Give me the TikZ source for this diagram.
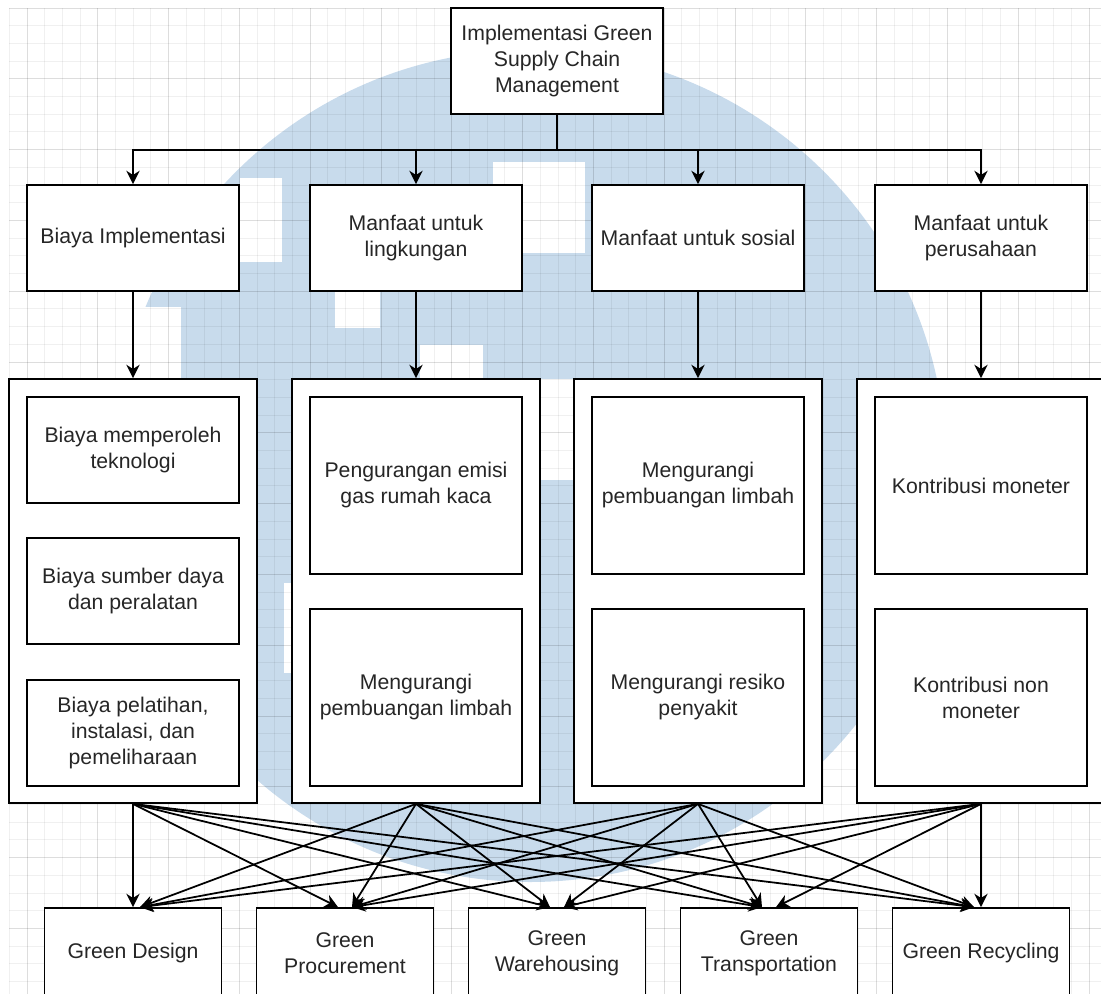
\documentclass[tikz,border=0pt]{standalone}
\usepackage{fontspec}
\setmainfont{Liberation Sans}
\usetikzlibrary{arrows.meta}
\definecolor{logoblue}{RGB}{200,219,236}

\begin{document}
\begin{tikzpicture}[x=0.25mm, y=-0.25mm,
    box/.style={draw, fill=white, line width=1.25pt, text=black!85, align=center,
      font=\fontsize{15.1}{18.5}\selectfont, inner sep=0pt},
    headbox/.style={box, minimum width=53mm, minimum height=26.5mm},
    groupbox/.style={box, minimum width=62mm, minimum height=106mm},
    itembox/.style={box, minimum width=53mm, minimum height=26.5mm},
    tallbox/.style={box, minimum width=53mm, minimum height=44.25mm},
    greenbox/.style={box, minimum width=44.25mm, minimum height=22.5mm},
    arr/.style={-{Stealth[length=9.5pt,width=9.5pt,inset=3pt]}, line width=1.25pt},
    minorline/.style={black, opacity=0.06, line width=0.7pt},
    majorline/.style={black, opacity=0.08, line width=0.7pt}]
    \useasboundingbox (0,0) rectangle (1101,994);
    \clip (0,0) rectangle (1101,994);

    % Background logo and grid
    \fill[logoblue] (530,466) circle[radius=104mm];
    \fill[white] (240,178) rectangle (282,262);
    \fill[white] (493,162) rectangle (585,253);
    \fill[white] (335,291) rectangle (380,328);
    \fill[white] (420,345) rectangle (483,380);
    \fill[white] (90,307) rectangle (181,400);
    \fill[white] (540,379) rectangle (575,480);
    \fill[white] (284,583) rectangle (293,673);
    \foreach \i in {0,...,61}
        \draw[minorline] ({9.3+17.7*\i},8) -- ({9.3+17.7*\i},994);
    \foreach \j in {0,...,55}
        \draw[minorline] (9.3,{8+17.7*\j}) -- (1101,{8+17.7*\j});
    \foreach \i in {0,...,15}
        \draw[majorline] ({27+70.8*\i},8) -- ({27+70.8*\i},994);
    \foreach \j in {0,...,13}
        \draw[majorline] (9.3,{8+70.8*\j}) -- (1101,{8+70.8*\j});

    % Define nodes
    \node[headbox] (top) at (557,61) {Implementasi Green\\Supply Chain\\Management};

    \node[headbox] (biaya) at (133,238) {Biaya Implementasi};
    \node[headbox] (lingkungan) at (416,238) {Manfaat untuk\\lingkungan};
    \node[headbox] (sosial) at (698,238) {Manfaat untuk sosial};
    \node[headbox] (perusahaan) at (981,238) {Manfaat untuk\\perusahaan};

    \node[groupbox] (g1) at (133,591) {};
    \node[groupbox] (g2) at (416,591) {};
    \node[groupbox] (g3) at (698,591) {};
    \node[groupbox] (g4) at (981,591) {};

    \node[itembox] (teknologi) at (133,450) {Biaya memperoleh\\teknologi};
    \node[itembox] (peralatan) at (133,591) {Biaya sumber daya\\dan peralatan};
    \node[itembox] (pelatihan) at (133,733) {Biaya pelatihan,\\instalasi, dan\\pemeliharaan};

    \node[tallbox] (emisi) at (416,485.5) {Pengurangan emisi\\gas rumah kaca};
    \node[tallbox] (limbah1) at (416,697.5) {Mengurangi\\pembuangan limbah};

    \node[tallbox] (limbah2) at (698,485.5) {Mengurangi\\pembuangan limbah};
    \node[tallbox] (penyakit) at (698,697.5) {Mengurangi resiko\\penyakit};

    \node[tallbox] (moneter) at (981,485.5) {Kontribusi moneter};
    \node[tallbox] (nonmoneter) at (981,697.5) {Kontribusi non\\moneter};

    \node[greenbox] (design) at (133,953) {Green Design};
    \node[greenbox] (procure) at (345,953) {Green\\Procurement};
    \node[greenbox] (warehouse) at (557,953) {Green\\Warehousing};
    \node[greenbox] (transport) at (769,953) {Green\\Transportation};
    \node[greenbox] (recycle) at (981,953) {Green Recycling};

    % Draw edges
    \coordinate (bus) at (557,150);
    \draw[line width=1.25pt] (top.south) -- (bus);
    \draw[arr] (bus) -| (biaya.north);
    \draw[arr] (bus) -| (lingkungan.north);
    \draw[arr] (bus) -| (sosial.north);
    \draw[arr] (bus) -| (perusahaan.north);

    \draw[arr] (biaya) -- (g1);
    \draw[arr] (lingkungan) -- (g2);
    \draw[arr] (sosial) -- (g3);
    \draw[arr] (perusahaan) -- (g4);

    \draw[arr] (g1.south) -- (design.north);
    \draw[arr] (g1.south) -- ([xshift=-1.75mm]procure.north);
    \draw[arr] (g1.south) -- ([xshift=-1.75mm]warehouse.north);
    \draw[arr] (g1.south) -- ([xshift=-1.75mm]transport.north);
    \draw[arr] (g1.south) -- ([xshift=-1.75mm]recycle.north);

    \draw[arr] (g2.south) -- ([xshift=1.75mm]design.north);
    \draw[arr] (g2.south) -- ([xshift=1.75mm]procure.north);
    \draw[arr] (g2.south) -- ([xshift=-1.75mm]warehouse.north);
    \draw[arr] (g2.south) -- ([xshift=-1.75mm]transport.north);
    \draw[arr] (g2.south) -- ([xshift=-1.75mm]recycle.north);

    \draw[arr] (g3.south) -- ([xshift=1.75mm]design.north);
    \draw[arr] (g3.south) -- ([xshift=1.75mm]procure.north);
    \draw[arr] (g3.south) -- ([xshift=1.75mm]warehouse.north);
    \draw[arr] (g3.south) -- ([xshift=-1.75mm]transport.north);
    \draw[arr] (g3.south) -- ([xshift=-1.75mm]recycle.north);

    \draw[arr] (g4.south) -- ([xshift=1.75mm]design.north);
    \draw[arr] (g4.south) -- ([xshift=1.75mm]procure.north);
    \draw[arr] (g4.south) -- ([xshift=1.75mm]warehouse.north);
    \draw[arr] (g4.south) -- ([xshift=1.75mm]transport.north);
    \draw[arr] (g4.south) -- (recycle.north);

\end{tikzpicture}
\end{document}
